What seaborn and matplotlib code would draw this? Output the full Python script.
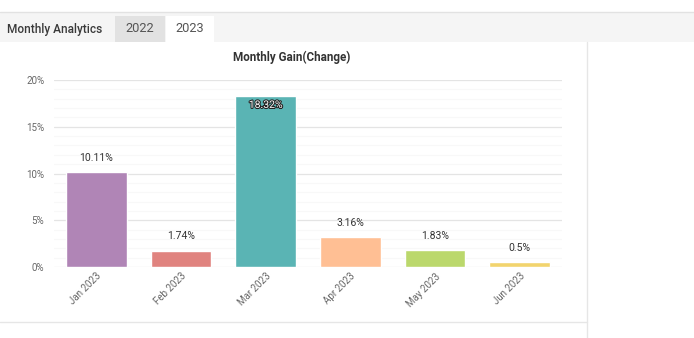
import matplotlib
matplotlib.use("Agg")
import matplotlib.pyplot as plt
import matplotlib.patheffects as pe
from matplotlib.patches import Rectangle
from matplotlib.lines import Line2D
from matplotlib.ticker import MultipleLocator, FuncFormatter
import seaborn as sns
import pandas as pd

months = ["Jan 2023", "Feb 2023", "Mar 2023", "Apr 2023", "May 2023", "Jun 2023"]
gains = [10.11, 1.74, 18.32, 3.16, 1.83, 0.5]
labels = ["10.11%", "1.74%", "18.32%", "3.16%", "1.83%", "0.5%"]
colors = ["#b085b6", "#e0837f", "#5ab4b4", "#ffbf94", "#bbd86c", "#f2d46e"]
tabs = ["Monthly Analytics", "2022", "2023"]
title = "Monthly Gain(Change)"

sns.set_theme(style="white")
plt.rcParams["font.family"] = ["Roboto", "DejaVu Sans"]

W, H = 694, 338
fig = plt.figure(figsize=(W / 100, H / 100), dpi=100)
fig.patch.set_facecolor("white")

def fx(x):
    return x / W

def fy(y):
    return 1 - y / H

# header band
fig.add_artist(Rectangle((0, fy(42)), 1, (42 - 12) / H, transform=fig.transFigure,
                         facecolor="#f5f5f5", edgecolor="none", zorder=0))
fig.add_artist(Line2D([0, 1], [fy(11.5), fy(11.5)], transform=fig.transFigure,
                      color="#e2e2e2", lw=1))
fig.add_artist(Rectangle((fx(115), fy(42)), 50 / W, 26 / H, transform=fig.transFigure,
                         facecolor="#e2e2e2", edgecolor="none", zorder=1))
fig.add_artist(Rectangle((fx(166), fy(43)), 48 / W, 27 / H, transform=fig.transFigure,
                         facecolor="white", edgecolor="none", zorder=1))
fig.text(fx(7), fy(29), tabs[0], fontsize=8.6, fontweight="medium", color="#3a3a3a",
         va="center", ha="left")
fig.text(fx(140), fy(29), tabs[1], fontsize=9.2, color="#555555", va="center", ha="center")
fig.text(fx(190), fy(29), tabs[2], fontsize=9.2, color="#555555", va="center", ha="center")

# dividers
fig.add_artist(Line2D([fx(587), fx(587)], [fy(42), 0], transform=fig.transFigure,
                      color="#e6e6e6", lw=1))
fig.add_artist(Line2D([0, fx(587)], [fy(322), fy(322)], transform=fig.transFigure,
                      color="#e6e6e6", lw=1))

fig.text(fx(292), fy(57), title, fontsize=8.4, fontweight="bold", color="#333333",
         ha="center", va="center")

# plot axes
left, right, top, bottom = 54, 562, 80, 267
ax = fig.add_axes([fx(left), fy(bottom), (right - left) / W, (bottom - top) / H])
df = pd.DataFrame({"month": months, "gain": gains})
sns.barplot(data=df, x="month", y="gain", hue="month", palette=colors, legend=False,
            width=0.72, saturation=1, ax=ax, zorder=3)
ax.set_ylim(0, 20)
ax.set_xlim(-0.5, len(months) - 0.5)
ax.yaxis.set_major_locator(MultipleLocator(5))
ax.yaxis.set_minor_locator(MultipleLocator(1))
ax.yaxis.set_major_formatter(FuncFormatter(lambda v, p: f"{v:.0f}%"))
ax.grid(axis="y", which="major", color="#e4e4e4", lw=0.9, zorder=0)
ax.grid(axis="y", which="minor", color="#f8f8f8", lw=0.8, zorder=0)
ax.set_axisbelow(True)
for s in ax.spines.values():
    s.set_visible(False)
ax.set_xlabel("")
ax.set_ylabel("")
ax.tick_params(axis="y", which="both", length=0, labelsize=7, labelcolor="#666666", pad=7)
ax.tick_params(axis="x", length=0, labelsize=7, labelcolor="#666666", pad=3)
for t in ax.get_xticklabels():
    t.set_rotation(45)
    t.set_ha("right")
    t.set_rotation_mode("anchor")

for i, (v, lab) in enumerate(zip(gains, labels)):
    if v > 15:
        ax.text(i, v - 0.45, lab, ha="center", va="top", fontsize=7.5, color="white",
                path_effects=[pe.withStroke(linewidth=1.5, foreground="#222222")], zorder=5)
    else:
        ax.text(i, v + 1.0, lab, ha="center", va="bottom", fontsize=7.5, color="#333333",
                zorder=5)

fig.savefig("out.png", dpi=100, facecolor="white")
